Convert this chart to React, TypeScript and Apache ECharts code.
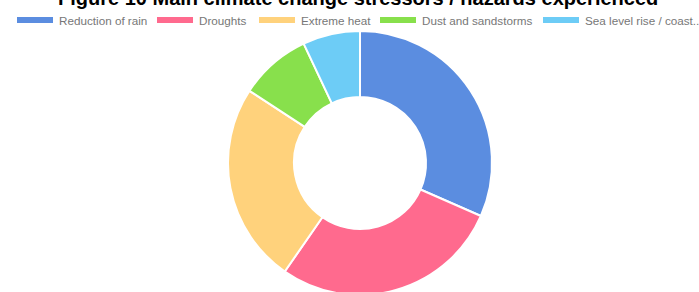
import React, { useEffect, useRef } from "react";
import * as echarts from "echarts";

const titleText = "Figure 10 Main climate change stressors / hazards experienced";
const categories = [
  "Reduction of rain",
  "Droughts",
  "Extreme heat",
  "Dust and sandstorms",
  "Sea level rise / coast...",
];
const values = [18, 16, 14, 5, 4];
const colors = ["#5B8DE0", "#FF6A8E", "#FFD27C", "#88E04C", "#6DCCF6"];
const legendLefts = [15, 155, 257, 378, 541];

export default function App() {
  const ref = useRef<HTMLDivElement>(null);
  useEffect(() => {
    document.body.style.margin = "0";
    const chart = echarts.init(ref.current!, null, { renderer: "svg" });
    const legendBase = {
      top: 14,
      padding: 0,
      itemWidth: 38,
      itemHeight: 8,
      itemGap: 9,
      icon: "rect",
      textStyle: {
        fontFamily: "Liberation Sans",
        fontSize: 11.7,
        color: "#777",
      },
    };
    chart.setOption({
      animation: false,
      color: colors,
      title: {
        text: titleText,
        left: 58,
        top: -12,
        padding: 0,
        textStyle: {
          fontFamily: "Liberation Sans",
          fontWeight: "bold",
          fontSize: 20,
          color: "#000",
        },
      },
      legend: categories.map((c, i) => ({
        ...legendBase,
        left: legendLefts[i],
        data: [c],
      })),
      series: [
        {
          type: "pie",
          center: [360, 163],
          radius: [66, 132],
          startAngle: 90,
          clockwise: true,
          label: { show: false },
          labelLine: { show: false },
          itemStyle: { borderColor: "#fff", borderWidth: 2 },
          emphasis: { disabled: true },
          data: categories.map((name, i) => ({ name, value: values[i] })),
        },
      ],
    });
    return () => chart.dispose();
  }, []);
  return <div ref={ref} style={{ width: 699, height: 292 }} />;
}
